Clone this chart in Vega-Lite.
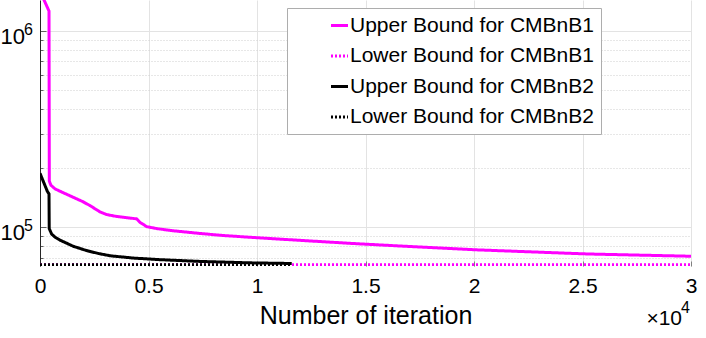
{
  "$schema": "https://vega.github.io/schema/vega-lite/v6.json",
  "autosize": {"type": "none"},
  "width": 651,
  "height": 266,
  "padding": {"left": 40, "top": 0, "right": 15, "bottom": 72},
  "config": {
    "font": "Liberation Sans",
    "view": {"stroke": null},
    "axis": {"labelColor": "#000000", "titleColor": "#000000", "domainColor": "#262626", "tickColor": "#262626"}
  },
  "datasets": {
    "curves": [
      {"series": "Upper Bound for CMBnB1", "x": 0, "y": 1600000},
      {"series": "Upper Bound for CMBnB1", "x": 415, "y": 1265000},
      {"series": "Upper Bound for CMBnB1", "x": 429, "y": 172000},
      {"series": "Upper Bound for CMBnB1", "x": 500, "y": 164000},
      {"series": "Upper Bound for CMBnB1", "x": 691, "y": 157000},
      {"series": "Upper Bound for CMBnB1", "x": 1100, "y": 149500},
      {"series": "Upper Bound for CMBnB1", "x": 1535, "y": 142200},
      {"series": "Upper Bound for CMBnB1", "x": 1950, "y": 135500},
      {"series": "Upper Bound for CMBnB1", "x": 2304, "y": 129000},
      {"series": "Upper Bound for CMBnB1", "x": 2765, "y": 119800},
      {"series": "Upper Bound for CMBnB1", "x": 3074, "y": 116100},
      {"series": "Upper Bound for CMBnB1", "x": 3450, "y": 114000},
      {"series": "Upper Bound for CMBnB1", "x": 3839, "y": 112500},
      {"series": "Upper Bound for CMBnB1", "x": 4456, "y": 110400},
      {"series": "Upper Bound for CMBnB1", "x": 4608, "y": 106000},
      {"series": "Upper Bound for CMBnB1", "x": 4916, "y": 100800},
      {"series": "Upper Bound for CMBnB1", "x": 5400, "y": 98400},
      {"series": "Upper Bound for CMBnB1", "x": 6143, "y": 96000},
      {"series": "Upper Bound for CMBnB1", "x": 7300, "y": 93200},
      {"series": "Upper Bound for CMBnB1", "x": 8447, "y": 90800},
      {"series": "Upper Bound for CMBnB1", "x": 10140, "y": 88300},
      {"series": "Upper Bound for CMBnB1", "x": 11982, "y": 85800},
      {"series": "Upper Bound for CMBnB1", "x": 14500, "y": 82600},
      {"series": "Upper Bound for CMBnB1", "x": 16590, "y": 80300},
      {"series": "Upper Bound for CMBnB1", "x": 20200, "y": 76700},
      {"series": "Upper Bound for CMBnB1", "x": 25270, "y": 73100},
      {"series": "Upper Bound for CMBnB1", "x": 30000, "y": 71200},
      {"series": "Lower Bound for CMBnB1", "x": 0, "y": 64500},
      {"series": "Lower Bound for CMBnB1", "x": 30000, "y": 64500},
      {"series": "Upper Bound for CMBnB2", "x": 0, "y": 188600},
      {"series": "Upper Bound for CMBnB2", "x": 230, "y": 163200},
      {"series": "Upper Bound for CMBnB2", "x": 337, "y": 152600},
      {"series": "Upper Bound for CMBnB2", "x": 415, "y": 148000},
      {"series": "Upper Bound for CMBnB2", "x": 425, "y": 98500},
      {"series": "Upper Bound for CMBnB2", "x": 538, "y": 92300},
      {"series": "Upper Bound for CMBnB2", "x": 700, "y": 89000},
      {"series": "Upper Bound for CMBnB2", "x": 922, "y": 86000},
      {"series": "Upper Bound for CMBnB2", "x": 1535, "y": 80000},
      {"series": "Upper Bound for CMBnB2", "x": 2150, "y": 76100},
      {"series": "Upper Bound for CMBnB2", "x": 2700, "y": 73500},
      {"series": "Upper Bound for CMBnB2", "x": 3226, "y": 71600},
      {"series": "Upper Bound for CMBnB2", "x": 4300, "y": 69700},
      {"series": "Upper Bound for CMBnB2", "x": 5530, "y": 68400},
      {"series": "Upper Bound for CMBnB2", "x": 7370, "y": 67000},
      {"series": "Upper Bound for CMBnB2", "x": 9680, "y": 65900},
      {"series": "Upper Bound for CMBnB2", "x": 11600, "y": 65400},
      {"series": "Lower Bound for CMBnB2", "x": 0, "y": 64500},
      {"series": "Lower Bound for CMBnB2", "x": 11600, "y": 64500}
    ],
    "ylabels": [
      {"x": 0, "y": 100000, "base": "10", "exp": "5"},
      {"x": 0, "y": 1000000, "base": "10", "exp": "6"}
    ],
    "xnote": [{"x": 30000, "y": 63500, "base": "×10", "exp": "4"}]
  },
  "layer": [
    {
      "data": {"name": "curves"},
      "mark": {"type": "line", "strokeWidth": 3, "clip": true, "strokeCap": "butt"},
      "encoding": {
        "x": {
          "field": "x", "type": "quantitative",
          "scale": {"domain": [0, 30000], "nice": false},
          "axis": {
            "values": [0, 5000, 10000, 15000, 20000, 25000, 30000],
            "labelExpr": "(datum.value / 10000) + ''",
            "title": "Number of iteration",
            "titleFontSize": 25, "titleFontWeight": "normal",
            "labelFontSize": 21, "labelPadding": 14,
            "tickSize": -5, "tickColor": "#808080",
            "domain": false,
            "grid": true, "gridColor": "#e3e3e3", "gridWidth": 1,
            "titlePadding": 7, "labelFlush": false
          }
        },
        "y": {
          "field": "y", "type": "quantitative",
          "scale": {"type": "log", "domain": [63500, 1440000], "nice": false, "zero": false},
          "axis": {
            "values": [70000, 80000, 90000, 100000, 200000, 300000, 400000, 500000, 600000, 700000, 800000, 900000, 1000000],
            "labels": false,
            "title": null,
            "tickSize": {"condition": {"test": "datum.value == 100000 || datum.value == 1000000", "value": -6}, "value": -3},
            "tickColor": "#606060",
            "grid": true,
            "gridColor": {"condition": {"test": "datum.value == 100000 || datum.value == 1000000", "value": "#e3e3e3"}, "value": "#cfcfcf"},
            "gridDash": {"condition": {"test": "datum.value == 100000 || datum.value == 1000000", "value": []}, "value": [1, 2]}
          }
        },
        "color": {
          "field": "series", "type": "nominal",
          "scale": {
            "domain": ["Upper Bound for CMBnB1", "Lower Bound for CMBnB1", "Upper Bound for CMBnB2", "Lower Bound for CMBnB2"],
            "range": ["#ff00ff", "#ff00ff", "#000000", "#000000"]
          },
          "legend": {
            "title": null, "orient": "none", "legendX": 247, "legendY": 8,
            "strokeColor": "#adadad", "fillColor": "#ffffff", "padding": 7, "rowPadding": 8.5,
            "symbolType": "stroke", "symbolSize": 289, "symbolStrokeWidth": 3,
            "symbolOffset": 35, "labelOffset": 0,
            "labelFontSize": 21, "labelColor": "#000000", "labelLimit": 600,
            "encode": {
              "entries": {
                "update": {"width": {"value": 341}}
              },
              "symbols": {
                "update": {
                  "strokeDash": {"signal": "indexof(datum.value, 'Lower') === 0 ? [2, 2] : [1, 0]"}
                }
              }
            }
          }
        },
        "strokeDash": {
          "field": "series", "type": "nominal",
          "scale": {
            "domain": ["Upper Bound for CMBnB1", "Lower Bound for CMBnB1", "Upper Bound for CMBnB2", "Lower Bound for CMBnB2"],
            "range": [[1, 0], [2, 2], [1, 0], [2, 2]]
          },
          "legend": null
        },
        "order": {"field": "x", "type": "quantitative"}
      }
    },
    {
      "data": {"name": "ylabels"},
      "mark": {"type": "text", "align": "right", "baseline": "alphabetic", "dx": -15, "dy": 13, "fontSize": 22, "color": "#000000", "clip": false},
      "encoding": {
        "x": {"field": "x", "type": "quantitative"},
        "y": {"field": "y", "type": "quantitative"},
        "text": {"field": "base"}
      }
    },
    {
      "data": {"name": "ylabels"},
      "mark": {"type": "text", "align": "right", "baseline": "alphabetic", "dx": -7, "dy": 4, "fontSize": 16, "color": "#000000", "clip": false},
      "encoding": {
        "x": {"field": "x", "type": "quantitative"},
        "y": {"field": "y", "type": "quantitative"},
        "text": {"field": "exp"}
      }
    },
    {
      "data": {"name": "xnote"},
      "mark": {"type": "text", "align": "right", "baseline": "alphabetic", "dx": -9, "dy": 59, "fontSize": 21, "color": "#000000", "clip": false},
      "encoding": {
        "x": {"field": "x", "type": "quantitative"},
        "y": {"field": "y", "type": "quantitative"},
        "text": {"field": "base"}
      }
    },
    {
      "data": {"name": "xnote"},
      "mark": {"type": "text", "align": "right", "baseline": "alphabetic", "dx": -1, "dy": 47, "fontSize": 16, "color": "#000000", "clip": false},
      "encoding": {
        "x": {"field": "x", "type": "quantitative"},
        "y": {"field": "y", "type": "quantitative"},
        "text": {"field": "exp"}
      }
    }
  ]
}
